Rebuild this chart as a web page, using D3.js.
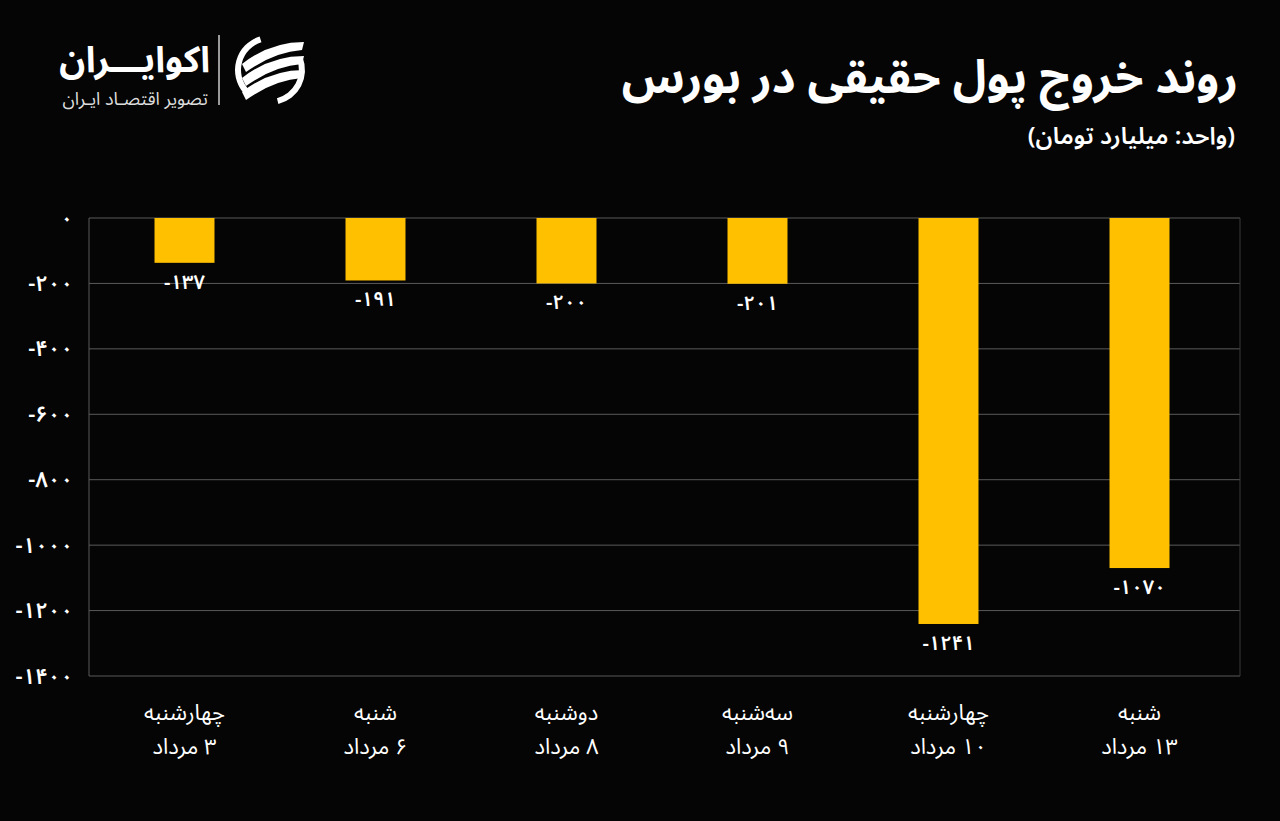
<!DOCTYPE html>
<html><head><meta charset="utf-8">
<script src="https://cdn.jsdelivr.net/npm/d3@7"></script>
<style>
html,body{margin:0;padding:0;background:#050505;}
svg{display:block;}
text{font-family:"Noto Sans Arabic","Noto Sans","DejaVu Sans",sans-serif;}
</style></head>
<body>
<svg id="chart" width="1280" height="821"></svg>
<script>
const days = ["چهارشنبه","شنبه","دوشنبه","سه‌شنبه","چهارشنبه","شنبه"];
const dates = ["۳ مرداد","۶ مرداد","۸ مرداد","۹ مرداد","۱۰ مرداد","۱۳ مرداد"];
const values = [-137,-191,-200,-201,-1241,-1070];
const yTicks = [0,-200,-400,-600,-800,-1000,-1200,-1400];
const title = "روند خروج پول حقیقی در بورس";
const subtitle = "(واحد: میلیارد تومان)";

const fa = n => String(n).replace(/\d/g, d => "۰۱۲۳۴۵۶۷۸۹"[d]);

const svg = d3.select("#chart");
svg.append("rect").attr("width",1280).attr("height",821).attr("fill","#050505");

const m = {left:89, right:1240, top:218, bottom:676};
const x = d3.scaleBand().domain(d3.range(values.length)).range([m.left, m.left + 6*191]).paddingInner(0.686).paddingOuter(0.343);
const y = d3.scaleLinear().domain([0,-1400]).range([m.top, m.bottom]);

// gridlines
const g = svg.append("g");
g.selectAll("line.grid").data(yTicks).join("line")
  .attr("x1", m.left).attr("x2", m.right)
  .attr("y1", d=>y(d)).attr("y2", d=>y(d))
  .attr("stroke","#5a5a5a").attr("stroke-width",1);
g.append("line").attr("x1",m.left).attr("x2",m.left).attr("y1",m.top).attr("y2",m.bottom).attr("stroke","#5a5a5a");
g.append("line").attr("x1",m.right).attr("x2",m.right).attr("y1",m.top).attr("y2",m.bottom).attr("stroke","#3a3a3a");

// y axis labels
const yAxis = d3.axisLeft(y).tickValues(yTicks).tickSize(0).tickPadding(16).tickFormat(d => d===0 ? fa(0) : "-" + fa(Math.abs(d)));
const ya = svg.append("g").attr("transform",`translate(${m.left},0)`).call(yAxis);
ya.select(".domain").remove();
ya.selectAll("text").attr("fill","#ffffff").style("font-size","22px").style("font-weight","600").attr("direction","ltr");

// bars
svg.selectAll("rect.bar").data(values).join("rect")
  .attr("x",(d,i)=>x(i)).attr("width",x.bandwidth())
  .attr("y",y(0)).attr("height",d=>y(d)-y(0))
  .attr("fill","#FFC000");

// value labels
svg.selectAll("text.val").data(values).join("text")
  .attr("x",(d,i)=>x(i)+x.bandwidth()/2)
  .attr("y",d=>y(d)+26)
  .attr("text-anchor","middle").attr("direction","ltr")
  .attr("fill","#ffffff").style("font-size","20px").style("font-weight","600")
  .text(d => "-" + fa(Math.abs(d)));

// x labels
const xl = svg.selectAll("g.xl").data(days).join("g")
  .attr("transform",(d,i)=>`translate(${x(i)+x.bandwidth()/2},0)`);
xl.append("text").attr("y",720).attr("text-anchor","middle").attr("direction","rtl").attr("fill","#fff").style("font-size","22px").text(d=>d);
xl.append("text").attr("y",754).attr("text-anchor","middle").attr("direction","rtl").attr("fill","#fff").style("font-size","22px").text((d,i)=>dates[i]);

// title (rtl: text-anchor start = right edge)
svg.append("text").attr("x",1238).attr("y",93).attr("text-anchor","start").attr("direction","rtl")
  .attr("fill","#fff").style("font-size","46px").style("font-weight","bold").text(title);
svg.append("text").attr("x",1235).attr("y",144).attr("text-anchor","start").attr("direction","rtl")
  .attr("fill","#fff").style("font-size","24px").style("font-weight","600").text(subtitle);

// logo
const logo = svg.append("g");
logo.append("text").attr("x",210).attr("y",72).attr("text-anchor","start").attr("direction","rtl")
  .attr("fill","#fff").style("font-size","36px").style("font-weight","bold").text("اکوایـــران");
logo.append("text").attr("x",208).attr("y",105).attr("text-anchor","start").attr("direction","rtl")
  .attr("fill","#ddd").style("font-size","18px").style("letter-spacing","0.5px").text("تصویر اقتصـاد ایـران");
logo.append("line").attr("x1",219).attr("x2",219).attr("y1",35).attr("y2",105).attr("stroke","#ccc").attr("stroke-width",1.5);
const ic = logo.append("g").attr("transform","translate(270,70)");
ic.append("path").attr("d",d3.arc()({innerRadius:29,outerRadius:35,startAngle:-2.3,endAngle:-0.3})).attr("fill","#fff");
ic.append("path").attr("d",d3.arc()({innerRadius:29,outerRadius:35,startAngle:1.2,endAngle:2.9})).attr("fill","#fff");
[-16,-2,12].forEach(o=>{
  ic.append("path").attr("d",`M${-28},${o+10} Q${0},${o-12} ${34},${o-12} L${32},${o-4} Q${4},${o-2} ${-24},${o+18} Z`).attr("fill","#fff");
});
</script>
</body></html>
